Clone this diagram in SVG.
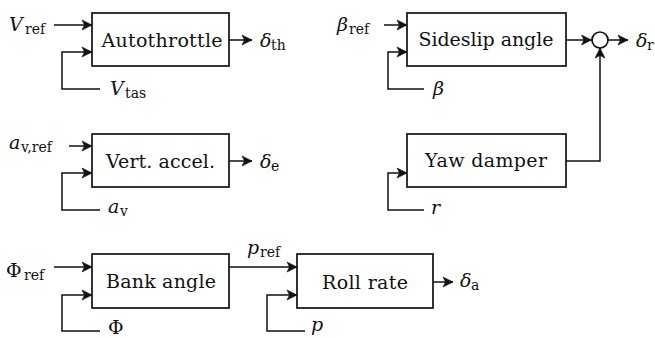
<svg xmlns="http://www.w3.org/2000/svg" width="655" height="338" viewBox="0 0 655 338">
<style>
.box{fill:#fff;stroke:#111;stroke-width:1.7}
.ln{fill:none;stroke:#111;stroke-width:1.5}
.arr{marker-end:url(#ah)}
.lbl{font-family:"DejaVu Serif",serif;font-size:19px;text-anchor:middle;fill:#111}
.m{font-family:"DejaVu Serif",serif;font-size:19px;fill:#111}
.i{font-style:italic}
.s{font-size:14px;font-style:normal}
</style>
<defs>
<marker id="ah" markerUnits="userSpaceOnUse" markerWidth="14" markerHeight="14" viewBox="-12 -7 14 14" refX="0" refY="0" orient="auto">
<path d="M-10,-5 L0,0 L-10,5 L-7.5,0 Z" fill="#111" stroke="#111" stroke-width="0.6" stroke-linejoin="miter"/>
</marker>
</defs>
<g id="connectors">
<path class="ln arr" d="M54,25 H92"/>
<path class="ln arr" d="M100,89 H62 V52 H92"/>
<path class="ln arr" d="M229,40 H252"/>
<path class="ln arr" d="M384,25 H407"/>
<path class="ln arr" d="M424,89 H388 V52 H407"/>
<path class="ln arr" d="M566,40 H591.5"/>
<path class="ln arr" d="M608,40 H628"/>
<path class="ln arr" d="M424,210 H388 V173 H407"/>
<path class="ln arr" d="M566,161 H600 V48"/>
<path class="ln arr" d="M69,146 H92"/>
<path class="ln arr" d="M100,210 H62 V173 H92"/>
<path class="ln arr" d="M229,161 H252"/>
<path class="ln arr" d="M54,267 H92"/>
<path class="ln arr" d="M100,331 H62 V295 H92"/>
<path class="ln arr" d="M229,267 H297"/>
<path class="ln arr" d="M305,331 H267 V295 H297"/>
<path class="ln arr" d="M433,282 H453"/>
</g>
<g id="autothrottle">
<rect class="box" x="92" y="13" width="137" height="53"/>
<text class="lbl" x="162" y="47" textLength="121">Autothrottle</text>
</g>
<g id="sideslip">
<rect class="box" x="407" y="13" width="159" height="53"/>
<text class="lbl" x="486" y="46" textLength="135">Sideslip angle</text>
</g>
<g id="sum">
<circle class="box" cx="600" cy="40" r="8" stroke-width="1.5"/>
</g>
<g id="vertaccel">
<rect class="box" x="92" y="134" width="137" height="53"/>
<text class="lbl" x="160.5" y="168" textLength="109">Vert. accel.</text>
</g>
<g id="yawdamper">
<rect class="box" x="407" y="134" width="159" height="53"/>
<text class="lbl" x="486" y="167" textLength="122">Yaw damper</text>
</g>
<g id="bankangle">
<rect class="box" x="92" y="254" width="137" height="54"/>
<text class="lbl" x="161" y="288" textLength="110">Bank angle</text>
</g>
<g id="rollrate">
<rect class="box" x="297" y="254" width="136" height="54"/>
<text class="lbl" x="365" y="289" textLength="86">Roll rate</text>
</g>
<g id="labels">
<text class="m"><tspan class="i" x="9" y="31">V</tspan><tspan class="s" x="25" y="34">ref</tspan></text>
<text class="m"><tspan class="i" x="260" y="47">δ</tspan><tspan class="s" x="271" y="50">th</tspan></text>
<text class="m"><tspan class="i" x="110" y="95">V</tspan><tspan class="s" x="125" y="98">tas</tspan></text>
<text class="m"><tspan class="i" x="337" y="31">β</tspan><tspan class="s" x="349" y="34">ref</tspan></text>
<text class="m i" x="433" y="95">β</text>
<text class="m"><tspan class="i" x="636" y="47">δ</tspan><tspan class="s" x="647" y="50">r</tspan></text>
<text class="m"><tspan class="i" x="9" y="149">a</tspan><tspan class="s" x="21" y="152">v,ref</tspan></text>
<text class="m"><tspan class="i" x="108" y="213">a</tspan><tspan class="s" x="120" y="216">v</tspan></text>
<text class="m"><tspan class="i" x="260" y="168">δ</tspan><tspan class="s" x="271" y="171">e</tspan></text>
<text class="m i" x="431" y="214">r</text>
<text class="m"><tspan x="6" y="277">Φ</tspan><tspan class="s" x="24" y="280">ref</tspan></text>
<text class="m"><tspan class="i" x="247" y="254">p</tspan><tspan class="s" x="260" y="257">ref</tspan></text>
<text class="m" x="108" y="334">Φ</text>
<text class="m i" x="311" y="331">p</text>
<text class="m"><tspan class="i" x="460" y="287">δ</tspan><tspan class="s" x="471" y="290">a</tspan></text>
</g>
</svg>
